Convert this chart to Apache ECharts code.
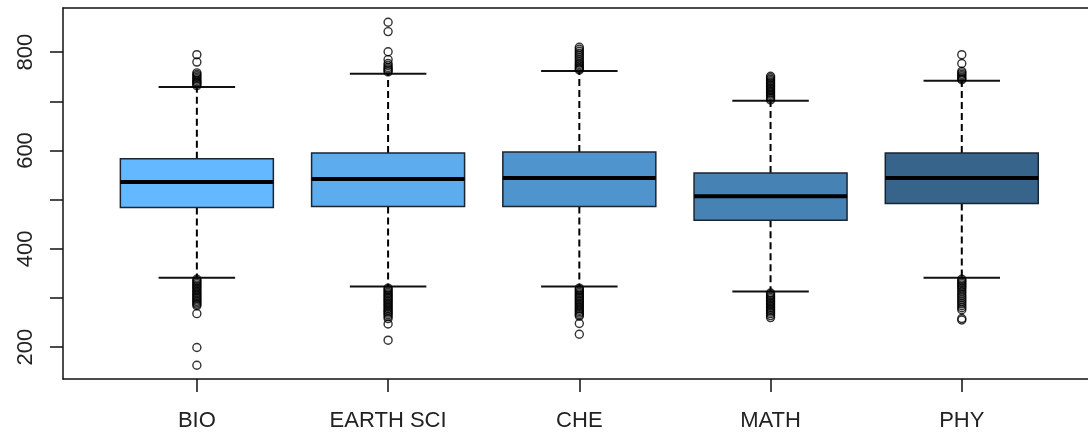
<!DOCTYPE html>
<html>
<head>
<meta charset="utf-8">
<script src="https://cdn.jsdelivr.net/npm/echarts@6/dist/echarts.min.js"></script>
<style>
  html, body { margin: 0; padding: 0; background: #fff; }
  #chart { width: 1088px; height: 436px; }
</style>
</head>
<body>
<div id="chart"></div>
<script>
// subjects along the x axis
const subjects = ['BIO', 'EARTH SCI', 'CHE', 'MATH', 'PHY'];
const boxColors = ['#63B8FF', '#5CACEE', '#4F94CD', '#4682B4', '#36648B'];

// [lower whisker, Q1, median, Q3, upper whisker]
const boxStats = [
    [341, 484, 536, 583, 729],
    [323, 486, 542, 595, 756],
    [323, 486, 544, 597, 762],
    [313, 458, 507, 554, 701],
    [341, 492, 544, 595, 742]
];

// outliers per subject
const outBIO = [795, 780, 758, 755, 752, 749, 746, 743, 740, 738, 735, 732,
    338, 335, 332, 329, 326, 323, 320, 317, 314, 311, 308, 305, 302, 299, 296, 293, 290, 287, 284, 268, 199, 163];
const outEARTH = [861, 842, 801, 785, 777, 773, 769, 766, 763, 760,
    320, 317, 314, 311, 308, 305, 302, 299, 296, 293, 290, 287, 284, 281, 278, 275, 272, 269, 266, 262, 258, 247, 214];
const outCHE = [810, 806, 802, 798, 794, 790, 786, 782, 778, 775, 772, 769, 766, 764,
    320, 317, 314, 311, 308, 305, 302, 299, 296, 293, 290, 287, 284, 281, 278, 275, 272, 269, 266, 263, 248, 226];
const outMATH = [751, 748, 745, 742, 739, 736, 733, 730, 727, 724, 721, 718, 715, 712, 709, 706, 703,
    310, 307, 304, 301, 298, 295, 292, 289, 286, 283, 280, 277, 274, 271, 268, 264, 260];
const outPHY = [795, 777, 761, 758, 755, 752, 749, 746, 744,
    338, 335, 332, 329, 326, 323, 320, 316, 312, 308, 304, 300, 296, 292, 288, 284, 280, 276, 258, 255];

const outliers = [outBIO, outEARTH, outCHE, outMATH, outPHY];

const chart = echarts.init(document.getElementById('chart'));

const boxData = boxStats.map((s, i) => [i + 1].concat(s));
const outlierData = [];
outliers.forEach((list, i) => list.forEach(v => outlierData.push([i + 1, v])));

const font = 'Liberation Sans, Arial, sans-serif';
const frameLine = { show: true, lineStyle: { color: '#111', width: 1.5 } };

// plot frame runs past the right edge of the picture, so no right border
const option = {
    animation: false,
    backgroundColor: '#fff',
    grid: {
        left: 63,
        top: 8,
        right: 0,
        height: 371
    },
    xAxis: [
        {
            type: 'value',
            min: 0.3,
            max: 5.66,
            splitLine: { show: false },
            axisLine: frameLine,
            axisTick: {
                show: true,
                customValues: [1, 2, 3, 4, 5],
                length: 13,
                lineStyle: { color: '#111', width: 1.5 }
            },
            axisLabel: {
                customValues: [1, 2, 3, 4, 5],
                formatter: v => subjects[v - 1],
                margin: 31,
                fontFamily: font,
                fontSize: 22,
                color: '#222'
            }
        },
        {
            type: 'value',
            position: 'top',
            min: 0.3,
            max: 5.66,
            splitLine: { show: false },
            axisLine: frameLine,
            axisTick: { show: false },
            axisLabel: { show: false }
        }
    ],
    yAxis: {
        type: 'value',
        min: 135,
        max: 890,
        splitLine: { show: false },
        axisLine: frameLine,
        axisTick: {
            show: true,
            customValues: [200, 300, 400, 500, 600, 700, 800],
            length: 13,
            lineStyle: { color: '#111', width: 1.5 }
        },
        axisLabel: {
            customValues: [200, 400, 600, 800],
            rotate: 90,
            margin: 26,
            fontFamily: font,
            fontSize: 22,
            color: '#222'
        }
    },
    series: [
        {
            type: 'custom',
            data: boxData,
            encode: { x: 0, y: [1, 2, 3, 4, 5] },
            z: 2,
            renderItem: function (params, api) {
                const x = api.value(0);
                const w = api.size([1, 0])[0] * 0.8;
                const pLo = api.coord([x, api.value(1)]);
                const pQ1 = api.coord([x, api.value(2)]);
                const pMed = api.coord([x, api.value(3)]);
                const pQ3 = api.coord([x, api.value(4)]);
                const pHi = api.coord([x, api.value(5)]);
                const cx = pMed[0];
                const dash = { stroke: '#000', lineWidth: 2, lineDash: [7, 4] };
                const cap = { stroke: '#111', lineWidth: 2 };
                return {
                    type: 'group',
                    children: [
                        { type: 'line', shape: { x1: cx, y1: pQ3[1], x2: cx, y2: pHi[1] }, style: dash },
                        { type: 'line', shape: { x1: cx, y1: pQ1[1], x2: cx, y2: pLo[1] }, style: dash },
                        { type: 'line', shape: { x1: cx - w / 4, y1: pHi[1], x2: cx + w / 4, y2: pHi[1] }, style: cap },
                        { type: 'line', shape: { x1: cx - w / 4, y1: pLo[1], x2: cx + w / 4, y2: pLo[1] }, style: cap },
                        {
                            type: 'rect',
                            shape: { x: cx - w / 2, y: pQ3[1], width: w, height: pQ1[1] - pQ3[1] },
                            style: { fill: boxColors[params.dataIndex], stroke: '#1b2530', lineWidth: 1.5 }
                        },
                        { type: 'line', shape: { x1: cx - w / 2, y1: pMed[1], x2: cx + w / 2, y2: pMed[1] }, style: { stroke: '#000', lineWidth: 4 } }
                    ]
                };
            }
        },
        {
            type: 'scatter',
            data: outlierData,
            z: 3,
            symbol: 'circle',
            symbolSize: 8,
            itemStyle: { color: 'rgba(255,255,255,0)', borderColor: '#000', borderWidth: 1.4 }
        }
    ]
};

chart.setOption(option);
</script>
</body>
</html>
